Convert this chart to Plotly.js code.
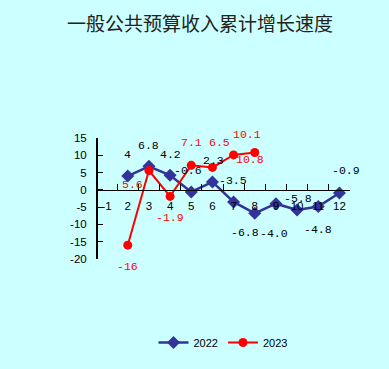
<!DOCTYPE html>
<html><head><meta charset="utf-8">
<script src="https://cdn.plot.ly/plotly-3.0.1.min.js"></script>
<style>html,body{margin:0;padding:0;background:#CCFFFF;}#c{width:389px;height:369px;}</style>
</head><body><div id="c"></div>
<script>
var categories = ["-1","2","3","4","5","6","7","8","9","10","11","12"];
var s2022 = [null, 4, 6.8, 4.2, -0.6, 2.3, -3.5, -6.8, -4.0, -5.8, -4.8, -0.9];
var s2023 = [null, -16, 5.6, -1.9, 7.1, 6.5, 10.1, 10.8, null, null, null, null];
var labels2022 = ["", "4", "6.8", "4.2", "-0.6", "2.3", "-3.5", "-6.8", "-4.0", "-5.8", "-4.8", "-0.9"];
var labels2023 = ["", "-16", "5.6", "-1.9", "7.1", "6.5", "10.1", "10.8", "", "", "", ""];
var yTicks = [15, 10, 5, 0, -5, -10, -15, -20];

// label offsets (px) — styling only
var off2022 = [[0,0],[0,-22],[0,-21],[0,-21],[-3,-21],[1,-21],[-1,-21],[-10,19],[-2,30],[1,-11],[0,23],[7,-22]];
var off2023 = [[0,0],[0,21],[-16,14],[0,21],[0,-23],[7,-25],[13,-20],[-5,7],[0,0],[0,0],[0,0],[0,0]];

var annotations = [];
function addLabels(vals, labs, offs, color) {
  for (var i = 0; i < vals.length; i++) {
    if (vals[i] === null) continue;
    annotations.push({
      x: i, y: vals[i], xref: 'x', yref: 'y',   // category index on the category axis
      text: labs[i], showarrow: false,
      xshift: offs[i][0], yshift: -offs[i][1],
      font: {family: 'Liberation Mono, monospace', size: 11.5, color: color}
    });
  }
}
addLabels(s2022, labels2022, off2022, '#000000');
addLabels(s2023, labels2023, off2023, '#FF0000');

var traces = [
  {x: categories, y: s2022, name: '2022', type: 'scatter', mode: 'lines+markers',
   line: {color: '#333399', width: 2.5}, marker: {symbol: 'diamond', size: 10, color: '#333399'}},
  {x: categories, y: s2023, name: '2023', type: 'scatter', mode: 'lines+markers',
   line: {color: '#FF0000', width: 2}, marker: {symbol: 'circle', size: 9, color: '#FF0000'}}
];

var layout = {
  width: 389, height: 369,
  paper_bgcolor: '#CCFFFF', plot_bgcolor: '#CCFFFF',
  margin: {l: 96, r: 39, t: 138, b: 106},
  title: {text: '一般公共预算收入累计增长速度', x: 0.514, xanchor: 'center', y: 0.935, yanchor: 'middle',
          font: {family: 'Noto Sans CJK SC, sans-serif', size: 19, color: '#222222'}},
  showlegend: true,
  legend: {orientation: 'h', x: 0.5, xanchor: 'center', y: -0.69, yanchor: 'middle',
           font: {family: 'Liberation Sans, Arial, sans-serif', size: 11, color: '#000'},
           bgcolor: 'rgba(0,0,0,0)', itemwidth: 30},
  xaxis: {type: 'category', categoryorder: 'array', categoryarray: categories,
          anchor: 'free', position: 20/35, showline: true, linecolor: '#000', linewidth: 1.5,
          ticks: 'inside', ticklen: 6, tickcolor: '#000', tickwidth: 1, tickson: 'boundaries',
          showgrid: false, zeroline: false, ticklabelstandoff: 5, tickangle: 0,
          tickfont: {family: 'Liberation Sans, Arial, sans-serif', size: 11.5, color: '#000'},
          range: [-0.5, 11.5], fixedrange: true},
  yaxis: {range: [-20, 15], tickvals: yTicks, ticktext: yTicks.map(String),
          anchor: 'free', position: 0,
          showline: true, linecolor: '#000', linewidth: 1.5,
          ticks: 'inside', ticklen: 5, tickcolor: '#000', tickwidth: 1,
          showgrid: false, zeroline: false, ticklabelstandoff: 7,
          tickfont: {family: 'Liberation Sans, Arial, sans-serif', size: 11.5, color: '#000'}},
  annotations: annotations
};
Plotly.newPlot('c', traces, layout, {displayModeBar: false, staticPlot: true});
</script></body></html>
